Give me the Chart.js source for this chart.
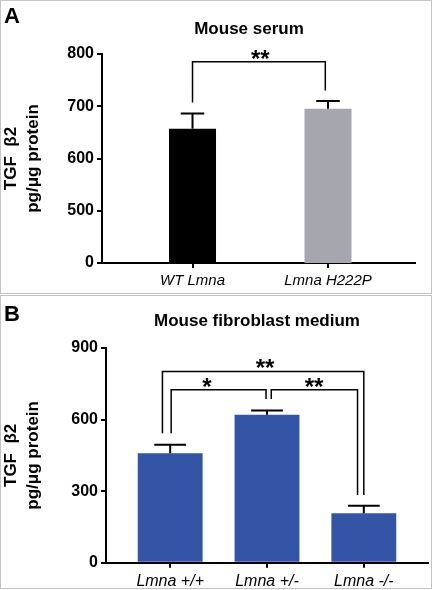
<!DOCTYPE html>
<html lang="en">
<head>
<meta charset="UTF-8">
<title>TGF β2 - Lmna</title>
<script src="https://cdn.jsdelivr.net/npm/chart.js"></script>
<style>
    body {
        margin: 0;
        background: #fff;
        width: 433px;
        height: 590px;
        position: relative;
        overflow: hidden;
    }
    .panel {
        position: absolute;
        left: 0;
        width: 430px;
        height: 292px;
        border: 1px solid #c4c4c4;
        background: #fff;
    }
    #panelA { top: 0; }
    #panelB { top: 295px; }
    canvas { display: block; }
</style>
</head>
<body>
<div class="panel" id="panelA"><canvas id="chartA" width="430" height="292"></canvas></div>
<div class="panel" id="panelB"><canvas id="chartB" width="430" height="292"></canvas></div>

<script>
// panel A - mouse serum
const serumLabels = ['WT Lmna', 'Lmna H222P'];
const serumMeans = [657, 695];
const serumErrors = [29, 15];
const serumTicks = [0, 500, 600, 700, 800];
const serumFloor = 400; // broken axis: "0" sits one step below 500
const serumBrackets = [
    {from: 0, to: 0.98, y: 785, leftEnd: 707, rightEnd: 730, label: '**', labelX: 0.5}
];

// panel B - fibroblast medium
const fibroLabels = ['Lmna +/+', 'Lmna +/-', 'Lmna -/-'];
const fibroMeans = [459, 620, 207];
const fibroErrors = [35, 18, 32];
const fibroTicks = [0, 300, 600, 900];
const fibroBrackets = [
    {from: -0.08, to: 2.0, y: 802, leftEnd: 543, rightEnd: 284, label: '**', labelX: 0.98},
    {from: 0.01, to: 0.99, y: 725, leftEnd: 543, rightEnd: 686, label: '*', labelX: 0.38},
    {from: 1.044, to: 1.935, y: 725, leftEnd: 686, rightEnd: 284, label: '**', labelX: 1.486}
];

Chart.defaults.font.family = 'Arial, "Liberation Sans", sans-serif';
Chart.defaults.color = '#000';

// error bars + significance brackets, placed through the chart scales
const markings = {
    id: 'markings',
    afterDatasetsDraw(chart, args, opts) {
        const {ctx, scales: {x, y}} = chart;
        const bars = chart.getDatasetMeta(0).data;
        ctx.save();
        ctx.strokeStyle = '#000';
        ctx.fillStyle = '#000';
        ctx.lineWidth = 2;
        opts.means.forEach((m, i) => {
            const cx = x.getPixelForValue(i);
            const top = y.getPixelForValue(m + opts.errors[i]);
            const half = bars[i].width * opts.capRatio / 2;
            ctx.beginPath();
            ctx.moveTo(cx, y.getPixelForValue(m));
            ctx.lineTo(cx, top);
            ctx.moveTo(cx - half, top);
            ctx.lineTo(cx + half, top);
            ctx.stroke();
        });
        ctx.lineWidth = 1.5;
        ctx.font = 'bold 24px Arial, "Liberation Sans", sans-serif';
        ctx.textAlign = 'center';
        ctx.textBaseline = 'alphabetic';
        opts.brackets.forEach(b => {
            const x1 = x.getPixelForValue(b.from);
            const x2 = x.getPixelForValue(b.to);
            const yy = y.getPixelForValue(b.y);
            ctx.beginPath();
            ctx.moveTo(x1, y.getPixelForValue(b.leftEnd));
            ctx.lineTo(x1, yy);
            ctx.lineTo(x2, yy);
            ctx.lineTo(x2, y.getPixelForValue(b.rightEnd));
            ctx.stroke();
            ctx.fillText(b.label, x.getPixelForValue(b.labelX), yy + 5);
        });
        ctx.restore();
    }
};

// panel letter and heading
const heading = {
    id: 'heading',
    afterDraw(chart, args, opts) {
        const ctx = chart.ctx;
        ctx.save();
        ctx.fillStyle = '#000';
        ctx.textBaseline = 'alphabetic';
        ctx.textAlign = 'left';
        ctx.font = 'bold 22px Arial, "Liberation Sans", sans-serif';
        ctx.fillText(opts.letter, 3, opts.letterY);
        ctx.textAlign = 'center';
        ctx.font = 'bold 17px Arial, "Liberation Sans", sans-serif';
        ctx.fillText(opts.title, opts.titleX, opts.titleY);
        ctx.restore();
    }
};

function axisX(labels, min, max, height, fontSize) {
    return {
        type: 'linear', min: min, max: max, offset: false,
        afterBuildTicks: s => { s.ticks = labels.map((_, i) => ({value: i})); },
        afterFit: s => { s.height = height; },
        ticks: {
            callback: v => labels[v],
            font: {size: fontSize, style: 'italic'},
            padding: 4, maxRotation: 0, autoSkip: false
        },
        grid: {drawOnChartArea: false, offset: false, color: '#000', lineWidth: 2, tickLength: 5},
        border: {color: '#000', width: 2}
    };
}

function axisY(min, max, tickVals, tickText, width) {
    return {
        min: min, max: max,
        afterBuildTicks: s => { s.ticks = tickVals.map(v => ({value: v})); },
        afterFit: s => { s.width = width; },
        ticks: {
            callback: v => tickText[tickVals.indexOf(v)],
            font: {size: 16, weight: 'bold'},
            padding: 3
        },
        grid: {drawOnChartArea: false, color: '#000', lineWidth: 2, tickLength: 5},
        border: {color: '#000', width: 2},
        title: {
            display: true,
            text: ['TGF  β2', 'pg/μg protein'],
            font: {size: 17, weight: 'bold', lineHeight: 1.25},
            padding: 0
        }
    };
}

new Chart(document.getElementById('chartA'), {
    type: 'bar',
    data: {
        datasets: [{
            data: serumMeans.map((v, i) => ({x: i, y: v})),
            backgroundColor: ['#000000', '#a6a6ae'],
            barPercentage: 0.347,
            categoryPercentage: 1
        }]
    },
    options: {
        responsive: false,
        animation: false,
        layout: {padding: {top: 53, right: 16, left: 0, bottom: 0}},
        plugins: {
            legend: {display: false},
            tooltip: {enabled: false},
            markings: {means: serumMeans, errors: serumErrors, brackets: serumBrackets, capRatio: 0.5},
            heading: {letter: 'A', letterY: 22, title: 'Mouse serum', titleX: 248, titleY: 33}
        },
        scales: {
            x: axisX(serumLabels, -0.668, 1.642, 30, 15),
            y: axisY(serumFloor, 800, serumTicks.map(t => t === 0 ? serumFloor : t), serumTicks, 101)
        }
    },
    plugins: [markings, heading]
});

new Chart(document.getElementById('chartB'), {
    type: 'bar',
    data: {
        datasets: [{
            data: fibroMeans.map((v, i) => ({x: i, y: v})),
            backgroundColor: '#3454a5',
            barPercentage: 0.67,
            categoryPercentage: 1
        }]
    },
    options: {
        responsive: false,
        animation: false,
        layout: {padding: {top: 52, right: 3, left: 0, bottom: 0}},
        plugins: {
            legend: {display: false},
            tooltip: {enabled: false},
            markings: {means: fibroMeans, errors: fibroErrors, brackets: fibroBrackets, capRatio: 0.49},
            heading: {letter: 'B', letterY: 25, title: 'Mouse fibroblast medium', titleX: 256, titleY: 30}
        },
        scales: {
            x: axisX(fibroLabels, -0.663, 2.663, 25.3, 16),
            y: axisY(0, 900, fibroTicks, fibroTicks, 105)
        }
    },
    plugins: [markings, heading]
});
</script>
</body>
</html>
